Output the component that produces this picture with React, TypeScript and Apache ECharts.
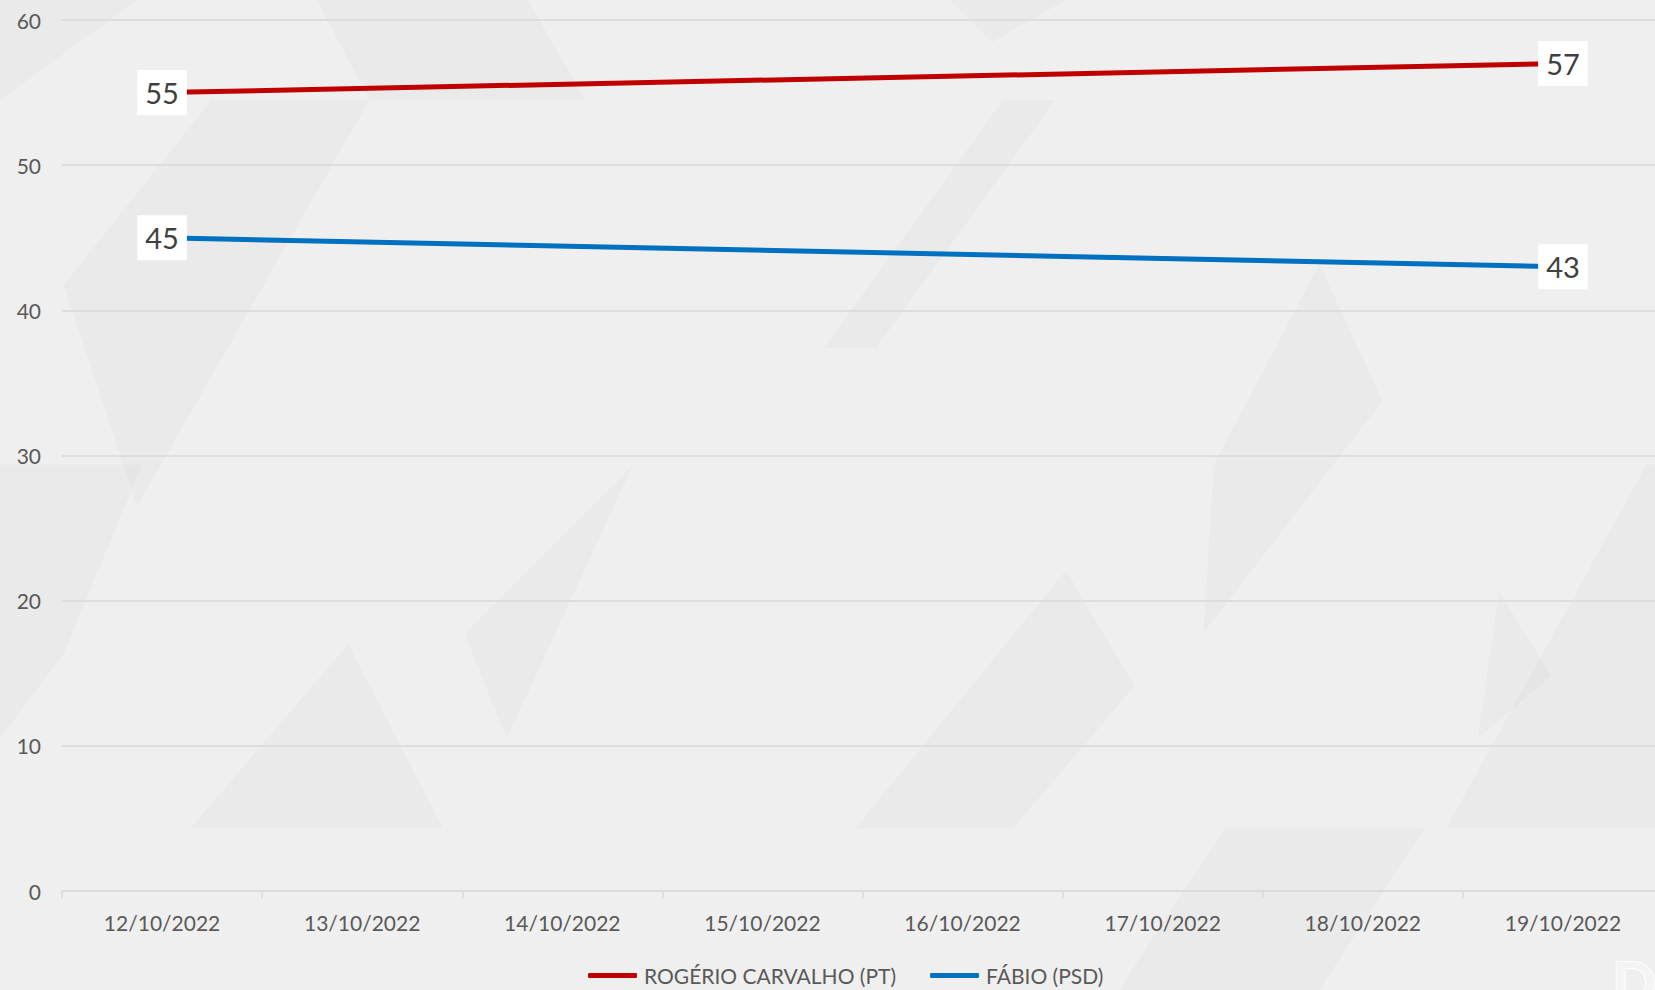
import React, { useEffect, useRef } from "react";
import * as echarts from "echarts";

const categories = [
  "12/10/2022",
  "13/10/2022",
  "14/10/2022",
  "15/10/2022",
  "16/10/2022",
  "17/10/2022",
  "18/10/2022",
  "19/10/2022",
];
const rogerioValues: (number | null)[] = [55, null, null, null, null, null, null, 57];
const fabioValues: (number | null)[] = [45, null, null, null, null, null, null, 43];
const seriesNames = ["ROGÉRIO CARVALHO (PT)", "FÁBIO (PSD)"];
const seriesColors = ["#C00000", "#0070C0"];
const yTicks = { min: 0, max: 60, interval: 10 };

const FONT = "Lato, 'Noto Sans', sans-serif";

function bgShapes() {
  const s = 1655 / 1568;
  const polys: number[][][] = [
    [[0, 0], [130, 0], [0, 95]],
    [[60, 270], [200, 95], [350, 95], [130, 480]],
    [[300, 0], [500, 0], [555, 95], [350, 95]],
    [[0, 440], [135, 440], [60, 620], [0, 700]],
    [[440, 600], [600, 440], [480, 700]],
    [[180, 785], [330, 610], [420, 785]],
    [[810, 785], [1010, 540], [1075, 650], [960, 785]],
    [[1150, 440], [1250, 250], [1310, 380], [1140, 600]],
    [[1370, 785], [1560, 440], [1568, 440], [1568, 785]],
    [[900, 0], [1010, 0], [940, 40]],
    [[1060, 938], [1160, 785], [1350, 785], [1250, 938]],
    [[1400, 700], [1420, 560], [1470, 640]],
    [[780, 330], [950, 95], [1000, 95], [830, 330]],
  ];
  const shapes: any[] = polys.map((p) => ({
    type: "polygon",
    silent: true,
    z: -10,
    shape: { points: p.map(([x, y]) => [x * s, y * s]) },
    style: { fill: "rgba(0,0,0,0.02)" },
  }));
  shapes.push({
    type: "text",
    silent: true,
    z: -5,
    x: 1612,
    y: 952,
    style: {
      text: "D",
      fontFamily: FONT,
      fontWeight: "bold",
      fontSize: 58,
      fill: "#F4F4F4",
      stroke: "#FFFFFF",
      lineWidth: 2,
    },
  });
  return shapes;
}

export default function App() {
  const ref = useRef<HTMLDivElement>(null);
  useEffect(() => {
    if (!ref.current) return;
    const chart = echarts.init(ref.current, undefined, { renderer: "svg" });
    const makeData = (vals: (number | null)[]) =>
      vals.map((v, i) => ({
        value: v,
        label: { show: v !== null && (i === 0 || i === vals.length - 1) },
      }));
    const labelStyle = {
      position: "inside",
      fontFamily: FONT,
      fontSize: 29,
      color: "#404040",
      backgroundColor: "#FFFFFF",
      padding: [9, 8, 7, 8],
      formatter: "{c}",
    };
    chart.setOption({
      animation: false,
      backgroundColor: "#EFEFEF",
      textStyle: { fontFamily: FONT },
      graphic: bgShapes(),
      grid: { left: 62, top: 20, right: 0, bottom: 99, containLabel: false },
      legend: {
        left: 583,
        top: 960,
        itemWidth: 49,
        itemHeight: 5,
        itemGap: 34,
        icon: "roundRect",
        textStyle: { fontFamily: FONT, fontSize: 21, color: "#595959", padding: [0, 0, 0, 2] },
        data: seriesNames,
      },
      xAxis: {
        type: "category",
        data: categories,
        boundaryGap: true,
        axisLine: { lineStyle: { color: "#D9D9D9", width: 1.5 } },
        axisTick: { show: true, length: 7, lineStyle: { color: "#D9D9D9", width: 1.5 } },
        axisLabel: { fontFamily: FONT, fontSize: 21, color: "#595959", margin: 21 },
      },
      yAxis: {
        type: "value",
        min: yTicks.min,
        max: yTicks.max,
        interval: yTicks.interval,
        axisLine: { show: false },
        axisTick: { show: false },
        axisLabel: { fontFamily: FONT, fontSize: 21, color: "#595959", margin: 21 },
        splitLine: { lineStyle: { color: "#D9D9D9", width: 1.5 } },
      },
      series: [
        {
          name: seriesNames[0],
          type: "line",
          data: makeData(rogerioValues),
          connectNulls: true,
          symbol: "circle",
          symbolSize: 2,
          showSymbol: true,
          color: seriesColors[0],
          lineStyle: { color: seriesColors[0], width: 5 },
          label: labelStyle,
        },
        {
          name: seriesNames[1],
          type: "line",
          data: makeData(fabioValues),
          connectNulls: true,
          symbol: "circle",
          symbolSize: 2,
          showSymbol: true,
          color: seriesColors[1],
          lineStyle: { color: seriesColors[1], width: 5 },
          label: labelStyle,
        },
      ],
    });
    return () => chart.dispose();
  }, []);
  return (
    <div
      style={{
        position: "absolute",
        left: 0,
        top: 0,
        width: 1655,
        height: 990,
        overflow: "hidden",
      }}
    >
      <div
        ref={ref}
        style={{ position: "absolute", left: 0, top: 0, width: 1663, height: 990 }}
      />
    </div>
  );
}
